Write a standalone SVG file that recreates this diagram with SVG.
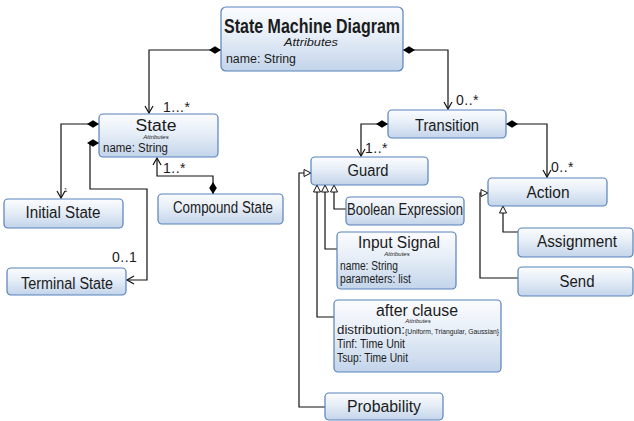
<svg xmlns="http://www.w3.org/2000/svg" width="634" height="421" viewBox="0 0 634 421">
  <defs>
    <linearGradient id="boxFill" x1="0" y1="0" x2="0" y2="1">
      <stop offset="0" stop-color="#fbfcfe"/>
      <stop offset="0.45" stop-color="#e6eef7"/>
      <stop offset="1" stop-color="#c3d4ea"/>
    </linearGradient>
    <marker id="openArrow" markerUnits="userSpaceOnUse" markerWidth="16" markerHeight="16" refX="0" refY="0" orient="auto" overflow="visible">
      <path d="M-7,-4 L0,0 L-7,4" fill="none" stroke="#111" stroke-width="1.2"/>
    </marker>
    <marker id="diamond" markerUnits="userSpaceOnUse" markerWidth="16" markerHeight="16" refX="0" refY="0" orient="auto" overflow="visible">
      <path d="M0,0 L6,-3.8 L12,0 L6,3.8 Z" fill="#000"/>
    </marker>
    <marker id="hollowTri" markerUnits="userSpaceOnUse" markerWidth="16" markerHeight="16" refX="0" refY="0" orient="auto" overflow="visible">
      <path d="M0,0 L-7,-3.5 L-7,3.5 Z" fill="#fff" stroke="#111" stroke-width="1"/>
    </marker>
  </defs>
  <style>
    .box { fill: url(#boxFill); stroke: #5782bb; stroke-width: 1.2; }
    text { font-family: "Liberation Sans", Arial, sans-serif; fill: #1b1b1b; }
    .title { font-size: 16px; text-anchor: middle; }
    .attrHdr { font-size: 6px; font-style: italic; text-anchor: middle; }
    .attr { font-size: 12px; }
    .mult { font-size: 14px; letter-spacing: 0.5px; }
    .conn { fill: none; stroke: #111; stroke-width: 1.2; }
    .assoc { marker-start: url(#diamond); marker-end: url(#openArrow); }
    .gen { marker-end: url(#hollowTri); }
  </style>

  <!-- connectors -->
  <g id="connectors">
    <path class="conn assoc" d="M221,50 H149 V113"/>
    <path class="conn assoc" d="M403,50 H448 V109"/>
    <path class="conn assoc" d="M99,124 H61 V198"/>
    <path class="conn assoc" d="M99,143 H90 V189 H147 V280 H127"/>
    <path class="conn assoc" stroke-width="2" d="M213,194 V176 H157 V158"/>
    <path class="conn assoc" d="M388,124 H361 V156"/>
    <path class="conn assoc" d="M506,124 H547 V177"/>

    <path class="conn gen" d="M346,209 H334 V185"/>
    <path class="conn gen" d="M337,249 H325 V185"/>
    <path class="conn gen" d="M334,317 H317 V185"/>
    <path class="conn gen" d="M325,407 H299 V173 H311"/>
    <path class="conn gen" d="M518,232 H503 V206"/>
    <path class="conn gen" d="M518,278 H480 V193 H488"/>

    <!-- multiplicities -->
    <text class="mult" x="163" y="112">1...*</text>
    <text class="mult" x="456" y="105">0..*</text>
    <text x="64" y="192" font-size="6">1</text>
    <text class="mult" x="112" y="262" letter-spacing="2">0..1</text>
    <text class="mult" x="163" y="173">1..*</text>
    <text class="mult" x="365" y="153">1..*</text>
    <text class="mult" x="551" y="172">0..*</text>
  </g>

  <!-- classes -->
  <g id="state-machine-diagram">
    <rect class="box" x="221" y="7" width="182" height="64" rx="5"/>
    <text x="312" y="33" font-size="21" font-weight="bold" text-anchor="middle" textLength="176" lengthAdjust="spacingAndGlyphs">State Machine Diagram</text>
    <text x="311" y="46" font-size="10" font-style="italic" text-anchor="middle" textLength="54" lengthAdjust="spacingAndGlyphs">Attributes</text>
    <text class="attr" x="226" y="63" font-size="13" textLength="70" lengthAdjust="spacingAndGlyphs">name: String</text>
  </g>

  <g id="state">
    <rect class="box" x="99" y="114" width="119" height="43" rx="4"/>
    <text class="title" x="156" y="131" font-size="17" textLength="41" lengthAdjust="spacingAndGlyphs">State</text>
    <text class="attrHdr" x="156" y="139">Attributes</text>
    <text class="attr" x="103" y="152" textLength="65" lengthAdjust="spacingAndGlyphs">name: String</text>
  </g>

  <g id="initial-state">
    <rect class="box" x="4" y="199" width="119" height="29" rx="4"/>
    <text class="title" x="63" y="218" textLength="75" lengthAdjust="spacingAndGlyphs">Initial State</text>
  </g>

  <g id="terminal-state">
    <rect class="box" x="7" y="268" width="119" height="27" rx="4"/>
    <text class="title" x="67" y="289" textLength="92" lengthAdjust="spacingAndGlyphs">Terminal State</text>
  </g>

  <g id="compound-state">
    <rect class="box" x="158" y="194" width="125" height="30" rx="4"/>
    <text class="title" x="223" y="213" textLength="100" lengthAdjust="spacingAndGlyphs">Compound State</text>
  </g>

  <g id="transition">
    <rect class="box" x="388" y="110" width="118" height="28" rx="4"/>
    <text class="title" x="447" y="131" textLength="64" lengthAdjust="spacingAndGlyphs">Transition</text>
  </g>

  <g id="guard">
    <rect class="box" x="311" y="157" width="117" height="28" rx="4"/>
    <text class="title" x="368" y="176" textLength="41" lengthAdjust="spacingAndGlyphs">Guard</text>
  </g>

  <g id="boolean-expression">
    <rect class="box" x="346" y="197" width="118" height="28" rx="4"/>
    <text class="title" x="405" y="215" font-size="14" textLength="116" lengthAdjust="spacingAndGlyphs">Boolean Expression</text>
  </g>

  <g id="input-signal">
    <rect class="box" x="337" y="232" width="119" height="57" rx="4"/>
    <text class="title" x="399" y="248" textLength="82" lengthAdjust="spacingAndGlyphs">Input Signal</text>
    <text class="attrHdr" x="397" y="256" font-size="5">Attributes</text>
    <text class="attr" x="340" y="270" font-size="11" textLength="58" lengthAdjust="spacingAndGlyphs">name: String</text>
    <text class="attr" x="340" y="283" font-size="11" textLength="71" lengthAdjust="spacingAndGlyphs">parameters: list</text>
  </g>

  <g id="after-clause">
    <rect class="box" x="334" y="300" width="167" height="72" rx="4"/>
    <text class="title" x="417" y="316" font-size="18" textLength="82" lengthAdjust="spacingAndGlyphs">after clause</text>
    <text class="attrHdr" x="418" y="323" font-size="5">Attributes</text>
    <text class="attr" x="337" y="334" font-size="11" textLength="68" lengthAdjust="spacingAndGlyphs">distribution:</text>
    <text x="405" y="334" font-size="8" textLength="94" lengthAdjust="spacingAndGlyphs">{Uniform, Triangular, Gaussian}</text>
    <text class="attr" x="337" y="348" font-size="11" textLength="68" lengthAdjust="spacingAndGlyphs">Tinf: Time Unit</text>
    <text class="attr" x="337" y="362" font-size="11" textLength="71" lengthAdjust="spacingAndGlyphs">Tsup: Time Unit</text>
  </g>

  <g id="probability">
    <rect class="box" x="325" y="393" width="118" height="27" rx="4"/>
    <text class="title" x="384" y="412" textLength="74" lengthAdjust="spacingAndGlyphs">Probability</text>
  </g>

  <g id="action">
    <rect class="box" x="488" y="178" width="119" height="28" rx="4"/>
    <text class="title" x="548" y="198" textLength="43" lengthAdjust="spacingAndGlyphs">Action</text>
  </g>

  <g id="assignment">
    <rect class="box" x="518" y="228" width="115" height="29" rx="4"/>
    <text class="title" x="577" y="247" textLength="80" lengthAdjust="spacingAndGlyphs">Assignment</text>
  </g>

  <g id="send">
    <rect class="box" x="518" y="267" width="115" height="29" rx="4"/>
    <text class="title" x="577" y="287" textLength="35" lengthAdjust="spacingAndGlyphs">Send</text>
  </g>
</svg>
